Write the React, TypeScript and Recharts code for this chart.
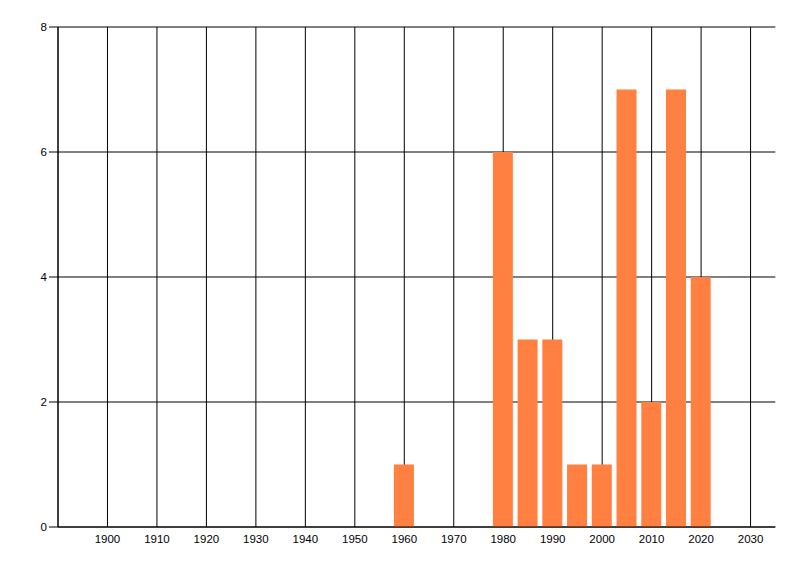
import React from "react";
import { BarChart, Bar, XAxis, YAxis, CartesianGrid } from "recharts";

const years = [1960, 1980, 1985, 1990, 1995, 2000, 2005, 2010, 2015, 2020];
const counts = [1, 6, 3, 3, 1, 1, 7, 2, 7, 4];
const xTicks = [1900, 1910, 1920, 1930, 1940, 1950, 1960, 1970, 1980, 1990, 2000, 2010, 2020, 2030];
const yTicks = [0, 2, 4, 6, 8];
const xDomain = [1890, 2035];

const data = years.map((y, i) => ({ year: y, count: counts[i] }));

const tickStyle = { fontFamily: "Liberation Sans, Arial, sans-serif", fontSize: 11.5, fill: "#000" };

const gridLine = (p: any) => (
  <line
    key={p.key}
    x1={p.x1}
    y1={p.y1}
    x2={p.x2}
    y2={p.y2}
    stroke="#000"
    strokeWidth={1}
    fill="none"
  />
);

const renderVertical = (p: any) => {
  const rightEdge = p.x + p.width;
  if (Math.abs(p.x1 - rightEdge) < 0.5) {
    return <g key={p.key} />;
  }
  return gridLine(p);
};

export default function App() {
  return (
    <div style={{ width: 784, height: 560 }}>
      <BarChart
        width={784}
        height={560}
        data={data}
        margin={{ top: 19, right: 16.7, bottom: 0, left: 0 }}
      >
        <CartesianGrid stroke="none" fill="none" horizontal={gridLine} vertical={renderVertical} />
        <XAxis
          dataKey="year"
          type="number"
          domain={xDomain}
          ticks={xTicks}
          allowDataOverflow
          height={41}
          tickLine={false}
          tickSize={6}
          tickMargin={2}
          axisLine={{ stroke: "#000" }}
          tick={tickStyle}
          interval={0}
        />
        <YAxis
          type="number"
          domain={[0, 8]}
          ticks={yTicks}
          width={50}
          tickSize={9}
          tickMargin={2}
          tickLine={{ stroke: "#000" }}
          axisLine={{ stroke: "#000" }}
          tick={tickStyle}
          interval={0}
        />
        <Bar dataKey="count" fill="#FF8040" barSize={20} isAnimationActive={false} />
      </BarChart>
    </div>
  );
}
